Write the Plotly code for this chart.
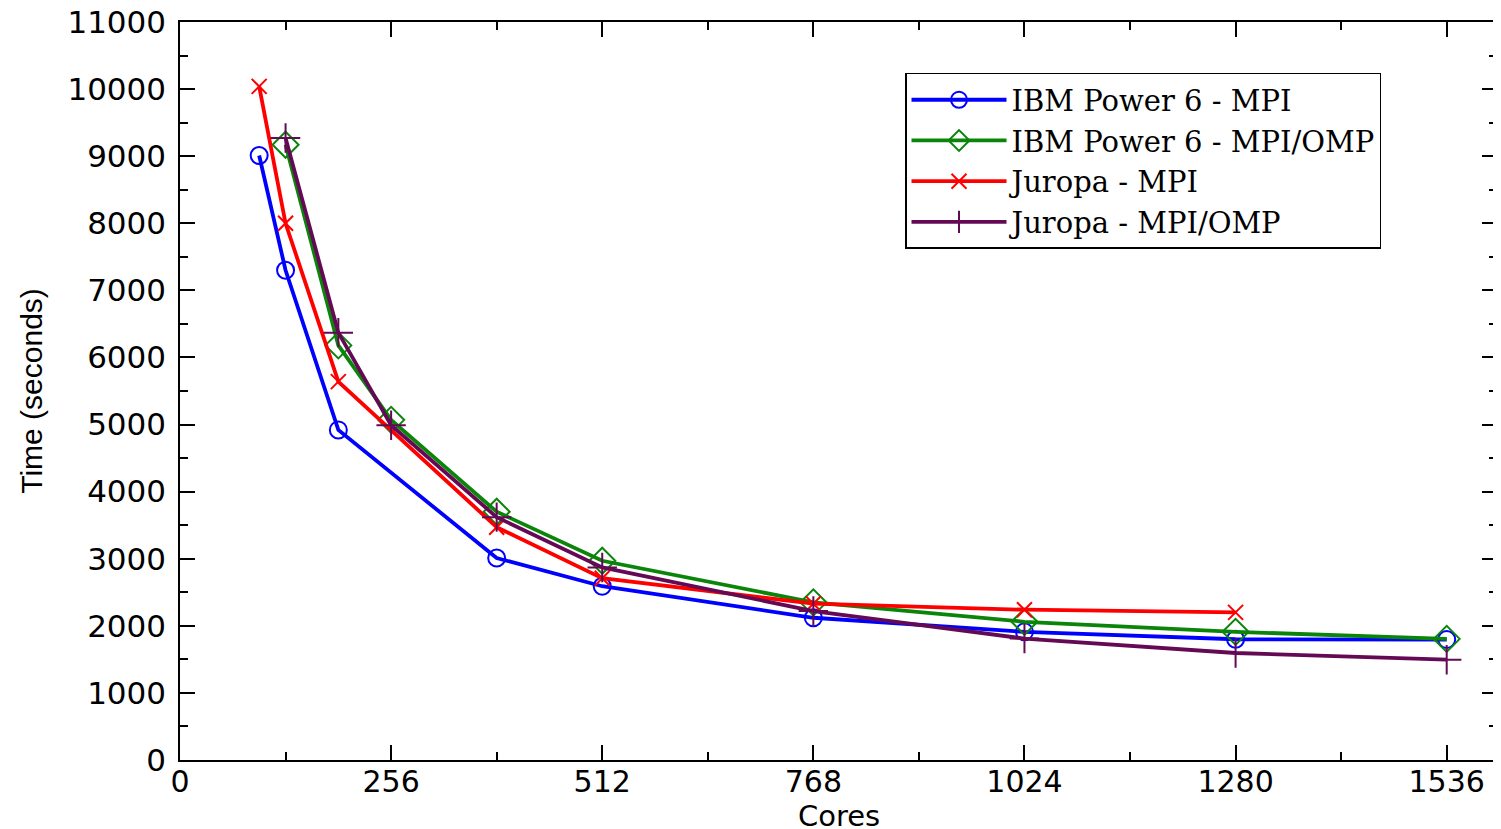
"""Run time versus number of cores for IBM Power 6 and Juropa."""

import plotly.graph_objects as go

ibm_mpi_cores = [96, 128, 192, 384, 512, 768, 1024, 1280, 1536]
ibm_mpi_time = [9010, 7300, 4920, 3010, 2590, 2120, 1910, 1800, 1795]

ibm_omp_cores = [128, 192, 256, 384, 512, 768, 1024, 1280, 1536]
ibm_omp_time = [9170, 6180, 5070, 3700, 2970, 2350, 2060, 1910, 1805]

juropa_mpi_cores = [96, 128, 192, 384, 512, 768, 1024, 1280]
juropa_mpi_time = [10040, 8000, 5640, 3470, 2710, 2330, 2240, 2200]

juropa_omp_cores = [128, 192, 256, 384, 512, 768, 1024, 1280, 1536]
juropa_omp_time = [9270, 6370, 4990, 3620, 2870, 2220, 1810, 1595, 1495]

x_ticks = [0, 256, 512, 768, 1024, 1280, 1536]
x_minor_ticks = [128, 384, 640, 896, 1152, 1408]

series = [
    ("IBM Power 6 - MPI", ibm_mpi_cores, ibm_mpi_time, "#0000ff", "circle-open", 17),
    ("IBM Power 6 - MPI/OMP", ibm_omp_cores, ibm_omp_time, "#0a850a", "diamond-open", 20),
    ("Juropa - MPI", juropa_mpi_cores, juropa_mpi_time, "#ff0000", "x-thin-open", 15),
    ("Juropa - MPI/OMP", juropa_omp_cores, juropa_omp_time, "#640a55", "cross-thin-open", 21),
]

fig = go.Figure()
for name, x, y, color, symbol, size in series:
    fig.add_trace(
        go.Scatter(
            x=x,
            y=y,
            name=name,
            mode="lines+markers",
            line=dict(color=color, width=3.8),
            marker=dict(symbol=symbol, size=size, color=color, line=dict(color=color, width=2)),
        )
    )

minor_style = dict(ticks="inside", ticklen=8, tickwidth=1.5, tickcolor="black")
axis_style = dict(
    showgrid=False,
    zeroline=False,
    showline=True,
    linecolor="black",
    linewidth=1.5,
    mirror="ticks",
    ticks="inside",
    ticklen=15,
    tickwidth=1.5,
    tickcolor="black",
    ticklabeloverflow="allow",
    automargin=False,
)

fig.update_xaxes(
    **axis_style,
    range=[0, 1597],
    tickvals=x_ticks,
    tickfont=dict(family="DejaVu Sans", size=30, color="black"),
    ticklabelstandoff=-6,
    minor=dict(tickvals=x_minor_ticks, **minor_style),
)
fig.update_yaxes(
    **axis_style,
    range=[0, 11000],
    dtick=1000,
    tickformat="d",
    tickfont=dict(family="DejaVu Sans", size=31, color="black"),
    ticklabelstandoff=6,
    minor=dict(dtick=500, **minor_style),
    title=dict(text="Time (seconds)", font=dict(family="Liberation Sans", size=30, color="black"), standoff=16),
)

# x title as an annotation so it can sit lower in the margin, like the original
fig.add_annotation(
    text="Cores",
    xref="paper",
    yref="paper",
    x=0.5,
    y=-0.0755,
    xanchor="center",
    yanchor="middle",
    showarrow=False,
    font=dict(family="DejaVu Sans", size=29, color="black"),
)

# the page body adds an 8px offset, so the figure is sized to keep the plot area in place
fig.update_layout(
    width=1493,
    height=821,
    margin=dict(l=172, r=4, t=14, b=69),
    plot_bgcolor="white",
    paper_bgcolor="white",
    showlegend=True,
    legend=dict(
        x=0.5505,
        y=0.931,
        xanchor="left",
        yanchor="top",
        bgcolor="white",
        bordercolor="black",
        borderwidth=1.5,
        font=dict(family="DejaVu Serif", size=29, color="black"),
        itemwidth=95,
        tracegroupgap=0,
    ),
)

fig.write_html("out.html")
